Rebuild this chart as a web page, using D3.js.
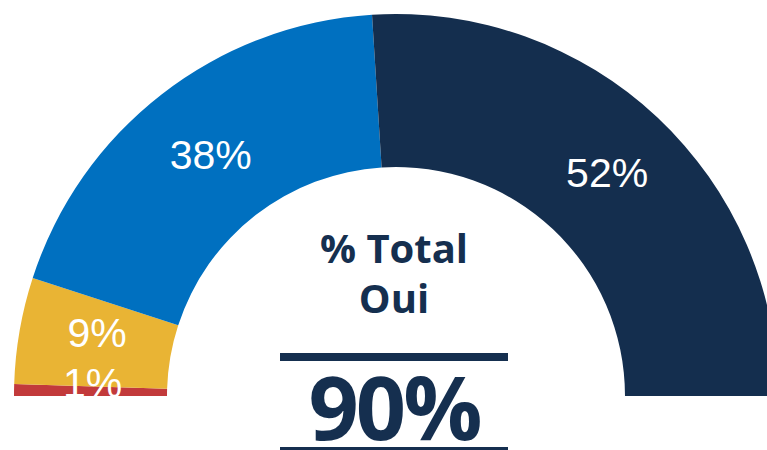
<!DOCTYPE html>
<html>
<head>
<meta charset="utf-8">
<script src="https://cdn.jsdelivr.net/npm/d3@7"></script>
<style>
  html, body { margin: 0; padding: 0; background: #fff; overflow: hidden; }
</style>
</head>
<body>
<div id="chart"></div>
<script>
// data
const categories = ['Non', 'Plutôt non', 'Plutôt oui', 'Oui'];
const shares = [1, 9, 38, 52];
const colors = ['#c23a3b', '#e9b434', '#0070c0', '#142e4e'];
const centerTitle = ['% Total', 'Oui'];
const centerValue = '90%';

const width = 767, height = 450;
const cx = 396, cy = 396;
const outerR = 382, innerR = 229;
const navy = '#152f4f';

const svg = d3.select('#chart')
    .append('svg')
    .attr('width', width)
    .attr('height', height);

const pie = d3.pie()
    .sort(null)
    .startAngle(-Math.PI / 2)
    .endAngle(Math.PI / 2)
    .value(d => d);

const arcs = pie(shares);

const arc = d3.arc()
    .innerRadius(innerR)
    .outerRadius(outerR);

const g = svg.append('g')
    .attr('transform', `translate(${cx},${cy})`);

g.selectAll('path')
    .data(arcs)
    .enter()
    .append('path')
    .attr('d', arc)
    .attr('fill', (d, i) => colors[i]);

// label positions at the centroid, pushed up so small slices don't collide
const labelArc = d3.arc()
    .innerRadius((innerR + outerR) / 2)
    .outerRadius((innerR + outerR) / 2);

const labels = arcs.map(d => {
    const c = labelArc.centroid(d);
    return { x: c[0], y: c[1], text: d.data + '%' };
});
let limit = -13;
labels.forEach(l => {
    if (l.x < 0) {
        if (l.y > limit) l.y = limit;
        limit = l.y - 50;
    }
});

g.selectAll('text.label')
    .data(labels)
    .enter()
    .append('text')
    .attr('class', 'label')
    .attr('x', d => d.x + 2)
    .attr('y', d => d.y)
    .attr('text-anchor', 'middle')
    .attr('dominant-baseline', 'central')
    .attr('fill', '#fff')
    .style('font-family', '"Liberation Sans", Arial, sans-serif')
    .style('font-size', '41px')
    .text(d => d.text);

// centre block
const midX = 394;
svg.selectAll('text.title')
    .data(centerTitle)
    .enter()
    .append('text')
    .attr('class', 'title')
    .attr('x', midX)
    .attr('y', (d, i) => 263 + i * 50)
    .attr('text-anchor', 'middle')
    .attr('fill', navy)
    .style('font-family', '"Open Sans", "Noto Sans", sans-serif')
    .style('font-weight', 'bold')
    .style('font-size', '40px')
    .text(d => d);

svg.append('rect')
    .attr('x', 280)
    .attr('y', 353)
    .attr('width', 228)
    .attr('height', 8)
    .attr('fill', navy);

svg.append('text')
    .attr('x', midX)
    .attr('y', 440)
    .attr('text-anchor', 'middle')
    .attr('fill', navy)
    .style('font-family', '"Open Sans", "Noto Sans", sans-serif')
    .style('font-weight', 'bold')
    .style('font-size', '88px')
    .style('letter-spacing', '-3px')
    .text(centerValue);

svg.append('rect')
    .attr('x', 280)
    .attr('y', 447)
    .attr('width', 228)
    .attr('height', 8)
    .attr('fill', navy);
</script>
</body>
</html>
